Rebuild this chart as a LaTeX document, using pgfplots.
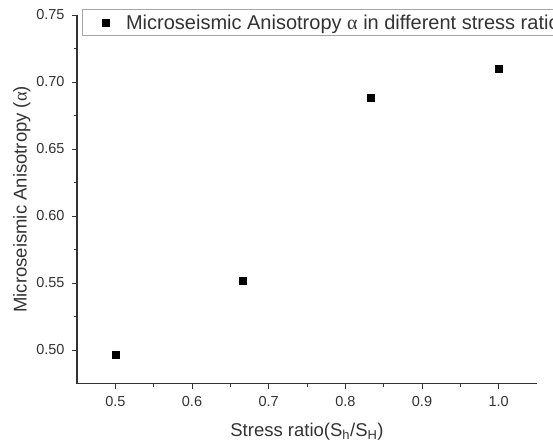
\documentclass[border=0pt]{standalone}
\usepackage{pgfplots}
\pgfplotsset{compat=1.18}
\usepackage{fontspec}
\setmainfont{Liberation Sans}
\newfontfamily\greekfont{Liberation Serif}

\definecolor{axisgray}{HTML}{333333}
\newcommand{\tickfont}{\fontsize{14.5bp}{16bp}\selectfont}
\newcommand{\labelfont}{\fontsize{18.5bp}{22bp}\selectfont}
\newcommand{\legendfont}{\fontsize{20bp}{23bp}\selectfont}

\begin{document}
\begin{tikzpicture}[font=\labelfont]
\path[use as bounding box, clip] (0,0) rectangle (553bp,446bp);
\begin{axis}[
  at={(77bp,62.5bp)}, anchor=south west,
  scale only axis, width=460bp, height=368.5bp,
  xmin=0.45, xmax=1.05, ymin=0.475, ymax=0.75,
  axis x line*=bottom, axis y line*=left,
  axis line style={axisgray, line width=1.1pt},
  every tick/.style={axisgray, line width=0.9pt},
  xtick={0.5,0.6,0.7,0.8,0.9,1.0},
  ytick={0.50,0.55,0.60,0.65,0.70,0.75},
  minor x tick num=1, minor y tick num=1,
  tick align=outside, major tick length=5bp, minor tick length=3bp,
  /pgf/number format/assume math mode=true,
  tick label style={font=\tickfont},
  xticklabel style={/pgf/number format/.cd, fixed, fixed zerofill, precision=1, /tikz/.cd, yshift=-4bp, text=axisgray},
  yticklabel style={/pgf/number format/.cd, fixed, fixed zerofill, precision=2, /tikz/.cd, xshift=-4bp, text=axisgray},
  xlabel={Stress ratio(S\textsubscript{h}/S\textsubscript{H})},
  ylabel={Microseismic Anisotropy ({\greekfont α})},
  every axis x label/.style={at={([yshift=-53bp]rel axis cs:0.5,0)}, anchor=base, font=\labelfont, text=axisgray},
  every axis y label/.style={at={([xshift=-50.3bp]rel axis cs:0,0.5)}, anchor=base, rotate=90, font=\labelfont, text=axisgray},
  legend style={at={(rel axis cs:0.0102,1.0155)}, anchor=north west,
    draw=black!35, line width=0.8pt, inner xsep=0bp, inner ysep=3bp,
    font=\legendfont, text=axisgray},
  legend cell align=left,
  legend image code/.code={
    \path[draw=none, fill=none] (0bp,0bp) -- (42bp,0bp);
    \fill[black] (20.5bp,-3.5bp) rectangle (27.5bp,3.5bp);
  },
]
\addplot[only marks, mark=square*, mark size=3.5bp, mark options={fill=black, draw=black}]
  coordinates {
    (0.5, 0.4963)
    (0.6667, 0.5519)
    (0.8333, 0.6882)
    (1.0, 0.7102)
  };
\addlegendentry{Microseismic Anisotropy {\greekfont α} in different stress ratio}
\end{axis}
\end{tikzpicture}
\end{document}
